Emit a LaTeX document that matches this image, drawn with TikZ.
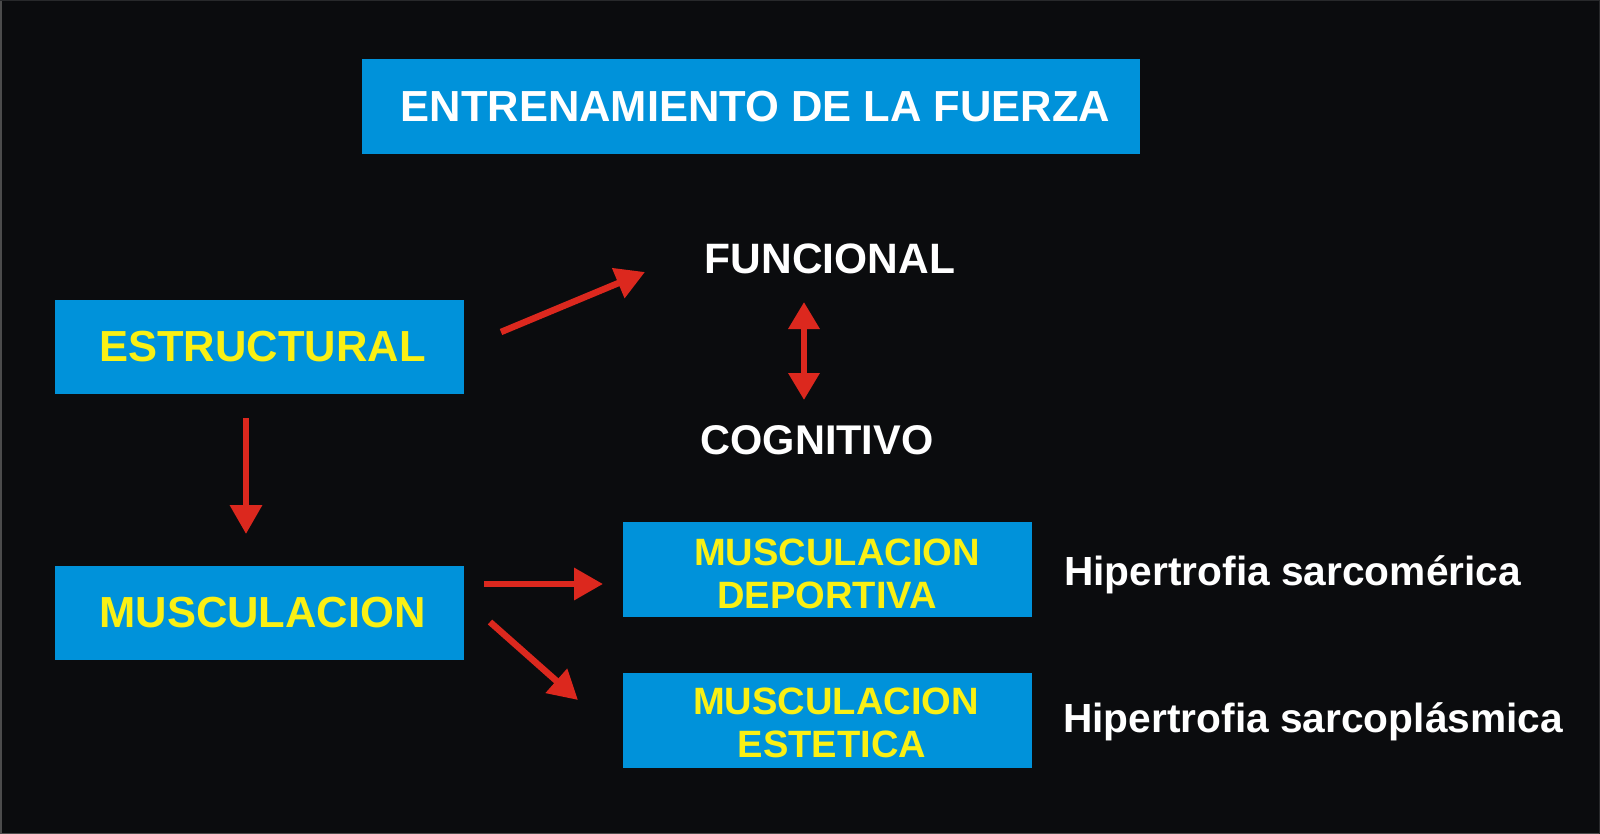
\documentclass[tikz,border=0pt]{standalone}
\usepackage{fontspec}
\setmainfont{Liberation Sans}
\usetikzlibrary{arrows.meta}
\definecolor{bg}{RGB}{11,12,14}
\definecolor{boxblue}{RGB}{0,146,218}
\definecolor{ytext}{RGB}{250,240,20}
\definecolor{arrred}{RGB}{220,40,30}
\tikzset{
  bluebox/.style={fill=boxblue, inner sep=0pt, text=ytext, font=\fontsize{43.5}{43}\selectfont\bfseries, align=center},
  smallbox/.style={fill=boxblue, inner sep=0pt, minimum width=409pt, minimum height=95pt},
  smalltext/.style={inner sep=0pt, text=ytext, align=center, font=\fontsize{38.1}{43}\selectfont\bfseries},
  wlabel/.style={text=white, inner sep=0pt, font=\fontsize{42.5}{43}\selectfont\bfseries},
  hlabel/.style={text=white, inner sep=0pt, anchor=base west, font=\fontsize{40.7}{43}\selectfont\bfseries},
  redarrow/.style={draw=arrred, line width=6.5pt, -{Triangle[length=29pt,width=31pt]}},
  redboth/.style={draw=arrred, line width=6.5pt, {Triangle[length=27pt,width=30pt]}-{Triangle[length=27pt,width=30pt]}}
}
\begin{document}
\begin{tikzpicture}[x=1pt,y=-1pt]
\fill[bg] (0,0) rectangle (1600,834);
\useasboundingbox (0,0) rectangle (1600,834);
\draw[gray!60!black, line width=1.5pt] (0.75,0) -- (0.75,833.25) -- (1600,833.25);
\draw[white!12!bg, line width=1pt] (0,0.5) -- (1599.5,0.5) -- (1599.5,834);

\node[bluebox, minimum width=778pt, minimum height=95pt, text=white] (title) at (751,106.5) {\hspace*{9pt}ENTRENAMIENTO DE LA FUERZA};
\node[bluebox, minimum width=409pt, minimum height=94pt] (estr) at (259.5,347) {\hspace*{6pt}ESTRUCTURAL};
\node[bluebox, minimum width=409pt, minimum height=94pt] (musc) at (259.5,613) {\hspace*{6pt}MUSCULACION};
\node[smallbox] (dep) at (827.5,569.5) {};
\node[smallbox] (est) at (827.5,720) {};
\node[smalltext] (depT) at (827,574) {\hspace*{20pt}MUSCULACION\\DEPORTIVA};
\node[smalltext] (estT) at (832,723) {\hspace*{8pt}MUSCULACION\\ESTETICA};

\node[wlabel, anchor=base] (func) at (830,273) {FUNCIONAL};
\node[wlabel, anchor=base, font=\fontsize{41.5}{43}\selectfont\bfseries] (cogn) at (817,454) {COGNITIVO};
\node[hlabel] (hsm) at (1064,585) {Hipertrofia sarcomérica};
\node[hlabel] (hsp) at (1063,732) {Hipertrofia sarcoplásmica};

\coordinate (a1s) at (501,332);
\coordinate (a1e) at (645,272);
\coordinate (a2s) at (804,302);
\coordinate (a2e) at (804,400);
\coordinate (a3s) at (246,418);
\coordinate (a3e) at (246,534);
\coordinate (a4s) at (484,584);
\coordinate (a4e) at (603,584);
\coordinate (a5s) at (490,622);
\coordinate (a5e) at (578,700);

\draw[redarrow] (a1s) -- (a1e);
\draw[redboth] (a2s) -- (a2e);
\draw[redarrow] (a3s) -- (a3e);
\draw[redarrow] (a4s) -- (a4e);
\draw[redarrow] (a5s) -- (a5e);
\end{tikzpicture}
\end{document}
